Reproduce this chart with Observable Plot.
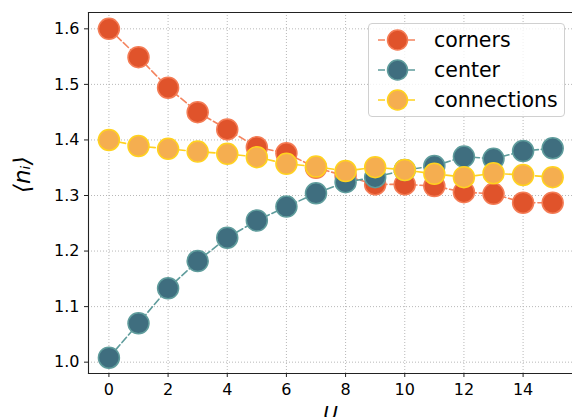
<!DOCTYPE html>
<html>
<head>
<meta charset="utf-8">
<script src="https://cdn.jsdelivr.net/npm/d3@7"></script>
<script src="https://cdn.jsdelivr.net/npm/@observablehq/plot@0.6"></script>
<style>
  body { margin: 0; background: #fff; }
  #wrap { position: relative; width: 572px; height: 417px; overflow: hidden; font-family: "DejaVu Sans", sans-serif; }
  #legend { position: absolute; left: 368px; top: 23px; width: 195px; height: 92px; border: 1px solid #d0d0d0; border-radius: 4px; background: rgba(255,255,255,0.8); }
  .item { position: absolute; left: 0; height: 30px; display: flex; align-items: center; }
  .item svg { display: block; }
  .item span { font-size: 20.5px; color: #000; margin-left: 8px; }
</style>
</head>
<body>
<div id="wrap"><div id="chart"></div><div id="legend"></div></div>
<script>
const U = [0, 1, 2, 3, 4, 5, 6, 7, 8, 9, 10, 11, 12, 13, 14, 15];
const corners = [1.600, 1.549, 1.494, 1.450, 1.419, 1.387, 1.376, 1.350, 1.335, 1.320, 1.320, 1.317, 1.306, 1.303, 1.287, 1.287];
const center = [1.008, 1.070, 1.133, 1.182, 1.224, 1.255, 1.280, 1.304, 1.324, 1.333, 1.346, 1.353, 1.370, 1.366, 1.380, 1.385];
const connections = [1.400, 1.389, 1.384, 1.379, 1.375, 1.369, 1.357, 1.352, 1.344, 1.351, 1.346, 1.339, 1.333, 1.340, 1.337, 1.333];
const seriesNames = ["corners", "center", "connections"];
const xTicks = [0, 2, 4, 6, 8, 10, 12, 14];
const yTicks = [1.0, 1.1, 1.2, 1.3, 1.4, 1.5, 1.6];

const styles = {
  corners:     {fill: "#e0532b", edge: "#f47c55", line: "#f4845f"},
  center:      {fill: "#3f6e7f", edge: "#5f9c9c", line: "#5f9c9c"},
  connections: {fill: "#f5ae50", edge: "#ffd21f", line: "#ffd21f"}
};
const values = {corners, center, connections};

const seriesMarks = seriesNames.flatMap(name => {
  const rows = U.map((u, i) => ({u, v: values[name][i]}));
  const s = styles[name];
  return [
    Plot.line(rows, {x: "u", y: "v", stroke: s.line, strokeWidth: 1.6, strokeDasharray: "7,3"}),
    Plot.dot(rows, {x: "u", y: "v", r: 10.5, fill: s.fill, stroke: s.edge, strokeWidth: 1.5})
  ];
});

const chart = Plot.plot({
  width: 572,
  height: 417,
  marginLeft: 88,
  marginRight: 0,
  marginTop: 12,
  marginBottom: 44,
  style: {fontFamily: "DejaVu Sans, sans-serif", fontSize: "16px", color: "#000", background: "#fff"},
  x: {domain: [-0.69, 15.67], ticks: xTicks, label: null},
  y: {domain: [0.9796, 1.6294], ticks: yTicks, tickFormat: d3.format(".1f"), label: null},
  marks: [
    Plot.gridX(xTicks, {stroke: "#b0b0b0", strokeOpacity: 1, strokeWidth: 0.9, strokeDasharray: "1,2"}),
    Plot.gridY(yTicks, {stroke: "#b0b0b0", strokeOpacity: 1, strokeWidth: 0.9, strokeDasharray: "1,2"}),
    ...seriesMarks,
    Plot.frame({anchor: "left", stroke: "#222", strokeWidth: 1.1}),
    Plot.frame({anchor: "top", stroke: "#222", strokeWidth: 1.1}),
    Plot.frame({anchor: "bottom", stroke: "#222", strokeWidth: 1.1}),
    Plot.axisX(xTicks, {tickSize: 4, tickPadding: 6, stroke: "#222", fontSize: 16, label: null}),
    Plot.axisY(yTicks, {tickSize: 4, tickPadding: 5, stroke: "#222", fontSize: 16, tickFormat: d3.format(".1f"), label: null}),
    Plot.text(["U"], {frameAnchor: "bottom", dy: 46, fontSize: 20, fontStyle: "italic", fill: "#000"}),
    Plot.text(["⟨nᵢ⟩"], {frameAnchor: "left", dx: -66, rotate: -90, fontSize: 23, fontStyle: "italic", fill: "#000"})
  ]
});
document.getElementById("chart").appendChild(chart);

const legend = document.getElementById("legend");
seriesNames.forEach((name, i) => {
  const s = styles[name];
  const div = document.createElement("div");
  div.className = "item";
  div.style.top = (1 + i * 30) + "px";
  div.innerHTML = `<svg width="57" height="30"><line x1="9" x2="47" y1="15" y2="15" stroke="${s.line}" stroke-width="1.6" stroke-dasharray="7,3"/><circle cx="28.5" cy="15" r="10" fill="${s.fill}" stroke="${s.edge}" stroke-width="1.5"/></svg><span>${name}</span>`;
  legend.appendChild(div);
});
</script>
</body>
</html>
